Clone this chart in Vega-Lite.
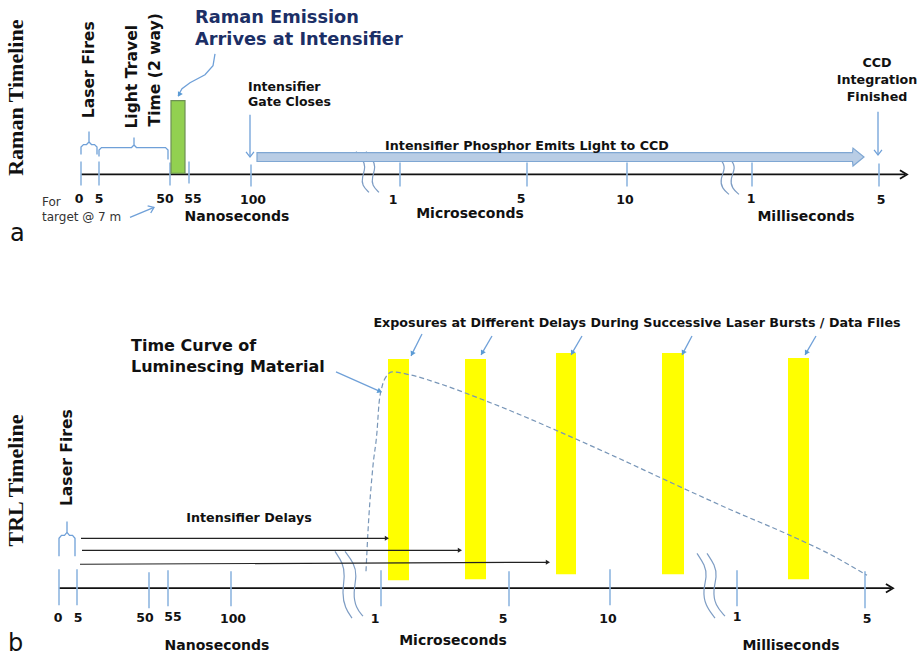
{
  "$schema": "https://vega.github.io/schema/vega-lite/v6.json",
  "width": 923,
  "height": 656,
  "autosize": {"type": "fit", "contains": "padding"},
  "padding": 0,
  "background": "white",
  "config": {"view": {"stroke": null}},
  "encoding": {
    "x": {"field": "x", "type": "quantitative", "scale": {"domain": [0, 923], "nice": false, "zero": false}, "axis": null},
    "y": {"field": "y", "type": "quantitative", "scale": {"domain": [0, 656], "nice": false, "zero": false, "reverse": true}, "axis": null}
  },
  "layer": [
    {
      "data": {"values": [
        {"x": 388, "x2": 409, "y": 360, "y2": 582},
        {"x": 465, "x2": 486, "y": 360, "y2": 581},
        {"x": 556, "x2": 576, "y": 354, "y2": 576},
        {"x": 662, "x2": 684, "y": 354, "y2": 576},
        {"x": 788, "x2": 809, "y": 359, "y2": 581}
      ]},
      "mark": {"type": "rect", "color": "#FFFF00"},
      "encoding": {"x2": {"field": "x2"}, "y2": {"field": "y2"}}
    },
    {
      "data": {"values": [
        {"x": 81, "x2": 905, "y": 175},
        {"x": 59, "x2": 891, "y": 590}
      ]},
      "mark": {"type": "rule", "color": "#111111", "strokeWidth": 1.8},
      "encoding": {"x2": {"field": "x2"}}
    },
    {
      "data": {"values": [
        {"x": 81, "y": 162, "y2": 186}, {"x": 99, "y": 162, "y2": 186}, {"x": 170, "y": 163, "y2": 186},
        {"x": 189, "y": 162, "y2": 184}, {"x": 251, "y": 165, "y2": 187}, {"x": 400, "y": 163, "y2": 187},
        {"x": 527, "y": 163, "y2": 187}, {"x": 627, "y": 163, "y2": 187}, {"x": 752, "y": 163, "y2": 187},
        {"x": 879, "y": 164, "y2": 187},
        {"x": 59, "y": 571, "y2": 607}, {"x": 77, "y": 571, "y2": 607}, {"x": 149, "y": 574, "y2": 610},
        {"x": 168, "y": 572, "y2": 608}, {"x": 231, "y": 573, "y2": 608}, {"x": 381, "y": 572, "y2": 608},
        {"x": 509, "y": 573, "y2": 608}, {"x": 610, "y": 571, "y2": 607}, {"x": 737, "y": 572, "y2": 608},
        {"x": 865, "y": 573, "y2": 610}
      ]},
      "mark": {"type": "rule", "color": "#8FB6E0", "strokeWidth": 1.6},
      "encoding": {"y2": {"field": "y2"}}
    },
    {
      "data": {"values": [
        {"id": "a1L1", "seq": 1, "x": 356, "y": 152}, {"id": "a1L1", "seq": 2, "x": 362, "y": 159}, {"id": "a1L1", "seq": 3, "x": 366, "y": 167}, {"id": "a1L1", "seq": 4, "x": 362, "y": 178}, {"id": "a1L1", "seq": 5, "x": 362, "y": 186}, {"id": "a1L1", "seq": 6, "x": 369, "y": 193},
        {"id": "a1L2", "seq": 1, "x": 366, "y": 152}, {"id": "a1L2", "seq": 2, "x": 372, "y": 159}, {"id": "a1L2", "seq": 3, "x": 376, "y": 167}, {"id": "a1L2", "seq": 4, "x": 372, "y": 178}, {"id": "a1L2", "seq": 5, "x": 372, "y": 186}, {"id": "a1L2", "seq": 6, "x": 379, "y": 193},
        {"id": "a2L1", "seq": 1, "x": 713, "y": 153}, {"id": "a2L1", "seq": 2, "x": 721, "y": 160}, {"id": "a2L1", "seq": 3, "x": 726, "y": 168}, {"id": "a2L1", "seq": 4, "x": 720, "y": 180}, {"id": "a2L1", "seq": 5, "x": 722, "y": 189}, {"id": "a2L1", "seq": 6, "x": 729, "y": 195},
        {"id": "a2L2", "seq": 1, "x": 723, "y": 153}, {"id": "a2L2", "seq": 2, "x": 731, "y": 160}, {"id": "a2L2", "seq": 3, "x": 736, "y": 168}, {"id": "a2L2", "seq": 4, "x": 730, "y": 180}, {"id": "a2L2", "seq": 5, "x": 732, "y": 189}, {"id": "a2L2", "seq": 6, "x": 739, "y": 195},
        {"id": "b1L1", "seq": 1, "x": 335, "y": 553}, {"id": "b1L1", "seq": 2, "x": 343, "y": 565}, {"id": "b1L1", "seq": 3, "x": 345, "y": 577}, {"id": "b1L1", "seq": 4, "x": 342, "y": 595}, {"id": "b1L1", "seq": 5, "x": 345, "y": 610}, {"id": "b1L1", "seq": 6, "x": 352, "y": 620},
        {"id": "b1L2", "seq": 1, "x": 345, "y": 553}, {"id": "b1L2", "seq": 2, "x": 354, "y": 565}, {"id": "b1L2", "seq": 3, "x": 357, "y": 577}, {"id": "b1L2", "seq": 4, "x": 353, "y": 595}, {"id": "b1L2", "seq": 5, "x": 356, "y": 610}, {"id": "b1L2", "seq": 6, "x": 363, "y": 618},
        {"id": "b2L1", "seq": 1, "x": 697, "y": 555}, {"id": "b2L1", "seq": 2, "x": 705, "y": 567}, {"id": "b2L1", "seq": 3, "x": 707, "y": 578}, {"id": "b2L1", "seq": 4, "x": 703, "y": 592}, {"id": "b2L1", "seq": 5, "x": 705, "y": 607}, {"id": "b2L1", "seq": 6, "x": 715, "y": 620},
        {"id": "b2L2", "seq": 1, "x": 707, "y": 555}, {"id": "b2L2", "seq": 2, "x": 715, "y": 567}, {"id": "b2L2", "seq": 3, "x": 717, "y": 578}, {"id": "b2L2", "seq": 4, "x": 713, "y": 592}, {"id": "b2L2", "seq": 5, "x": 715, "y": 607}, {"id": "b2L2", "seq": 6, "x": 725, "y": 618}
      ]},
      "mark": {"type": "line", "interpolate": "basis", "color": "#7E9DC4", "strokeWidth": 1.2},
      "encoding": {"detail": {"field": "id"}, "order": {"field": "seq", "type": "quantitative"}}
    },
    {
      "data": {"values": [
        {"seq": 1, "x": 257, "y": 153, "y2": 162},
        {"seq": 2, "x": 852.5, "y": 153, "y2": 162},
        {"seq": 3, "x": 853, "y": 148.5, "y2": 166.5},
        {"seq": 4, "x": 864, "y": 157.5, "y2": 157.5}
      ]},
      "mark": {"type": "area", "color": "#B9CDE5", "stroke": "#7FA7D3", "strokeWidth": 1.2, "interpolate": "linear"},
      "encoding": {"y2": {"field": "y2"}}
    },
    {
      "data": {"values": [
        {"x": 171, "x2": 185, "y": 101, "y2": 174}
      ]},
      "mark": {"type": "rect", "color": "#92D050", "stroke": "#6E8F55", "strokeWidth": 1.2},
      "encoding": {"x2": {"field": "x2"}, "y2": {"field": "y2"}}
    },
    {
      "data": {"values": [
        {"id": "A1l", "seq": 1, "x": 81, "y": 155}, {"id": "A1l", "seq": 2, "x": 81, "y": 147.5}, {"id": "A1l", "seq": 3, "x": 83.5, "y": 145}, {"id": "A1l", "seq": 4, "x": 86.5, "y": 145}, {"id": "A1l", "seq": 5, "x": 89, "y": 142.5}, {"id": "A1l", "seq": 6, "x": 89, "y": 132},
        {"id": "A1r", "seq": 1, "x": 89, "y": 142.5}, {"id": "A1r", "seq": 2, "x": 91.5, "y": 145}, {"id": "A1r", "seq": 3, "x": 94.5, "y": 145}, {"id": "A1r", "seq": 4, "x": 97, "y": 147.5}, {"id": "A1r", "seq": 5, "x": 97, "y": 155},
        {"id": "A2l", "seq": 1, "x": 99, "y": 157}, {"id": "A2l", "seq": 2, "x": 99, "y": 150.5}, {"id": "A2l", "seq": 3, "x": 101.5, "y": 148}, {"id": "A2l", "seq": 4, "x": 131.5, "y": 148}, {"id": "A2l", "seq": 5, "x": 134, "y": 145.5}, {"id": "A2l", "seq": 6, "x": 134, "y": 138},
        {"id": "A2r", "seq": 1, "x": 134, "y": 145.5}, {"id": "A2r", "seq": 2, "x": 136.5, "y": 148}, {"id": "A2r", "seq": 3, "x": 165.5, "y": 148}, {"id": "A2r", "seq": 4, "x": 168, "y": 150.5}, {"id": "A2r", "seq": 5, "x": 168, "y": 160},
        {"id": "Bl", "seq": 1, "x": 59, "y": 558}, {"id": "Bl", "seq": 2, "x": 59, "y": 540}, {"id": "Bl", "seq": 3, "x": 61.5, "y": 537}, {"id": "Bl", "seq": 4, "x": 64.5, "y": 537}, {"id": "Bl", "seq": 5, "x": 67, "y": 534}, {"id": "Bl", "seq": 6, "x": 67, "y": 523},
        {"id": "Br", "seq": 1, "x": 67, "y": 534}, {"id": "Br", "seq": 2, "x": 69.5, "y": 537}, {"id": "Br", "seq": 3, "x": 72.5, "y": 537}, {"id": "Br", "seq": 4, "x": 75, "y": 540}, {"id": "Br", "seq": 5, "x": 75, "y": 558},
        {"id": "gate", "seq": 1, "x": 250, "y": 115}, {"id": "gate", "seq": 2, "x": 250, "y": 157},
        {"id": "ccd", "seq": 1, "x": 878, "y": 112}, {"id": "ccd", "seq": 2, "x": 878, "y": 155},
        {"id": "tgt", "seq": 1, "x": 130, "y": 218}, {"id": "tgt", "seq": 2, "x": 154, "y": 208},
        {"id": "raman", "seq": 1, "x": 215, "y": 54}, {"id": "raman", "seq": 2, "x": 213, "y": 66}, {"id": "raman", "seq": 3, "x": 205, "y": 75}, {"id": "raman", "seq": 4, "x": 190, "y": 83}, {"id": "raman", "seq": 5, "x": 182, "y": 89}, {"id": "raman", "seq": 6, "x": 178, "y": 96},
        {"id": "tc", "seq": 1, "x": 336, "y": 373}, {"id": "tc", "seq": 2, "x": 381, "y": 393},
        {"id": "e1", "seq": 1, "x": 422, "y": 335}, {"id": "e1", "seq": 2, "x": 411, "y": 357},
        {"id": "e2", "seq": 1, "x": 492, "y": 337}, {"id": "e2", "seq": 2, "x": 481, "y": 356},
        {"id": "e3", "seq": 1, "x": 582, "y": 337}, {"id": "e3", "seq": 2, "x": 571, "y": 356},
        {"id": "e4", "seq": 1, "x": 692, "y": 337}, {"id": "e4", "seq": 2, "x": 682, "y": 356},
        {"id": "e5", "seq": 1, "x": 816, "y": 337}, {"id": "e5", "seq": 2, "x": 805, "y": 356}
      ]},
      "mark": {"type": "line", "interpolate": "linear", "color": "#6FA0D8", "strokeWidth": 1.3},
      "encoding": {"detail": {"field": "id"}, "order": {"field": "seq", "type": "quantitative"}}
    },
    {
      "data": {"values": [
        {"seq": 1, "x": 366, "y": 573}, {"seq": 2, "x": 368, "y": 533}, {"seq": 3, "x": 373, "y": 467},
        {"seq": 4, "x": 377, "y": 433}, {"seq": 5, "x": 379, "y": 405}, {"seq": 6, "x": 382, "y": 388},
        {"seq": 7, "x": 386, "y": 378}, {"seq": 8, "x": 392, "y": 373}, {"seq": 9, "x": 410, "y": 376},
        {"seq": 10, "x": 440, "y": 385}, {"seq": 11, "x": 483, "y": 401}, {"seq": 12, "x": 520, "y": 416},
        {"seq": 13, "x": 557, "y": 432}, {"seq": 14, "x": 615, "y": 458}, {"seq": 15, "x": 673, "y": 485},
        {"seq": 16, "x": 730, "y": 511}, {"seq": 17, "x": 790, "y": 537}, {"seq": 18, "x": 830, "y": 556},
        {"seq": 19, "x": 867, "y": 577}
      ]},
      "mark": {"type": "line", "interpolate": "monotone", "color": "#7896B8", "strokeWidth": 1.2, "strokeDash": [5, 3]},
      "encoding": {"order": {"field": "seq", "type": "quantitative"}}
    },
    {
      "data": {"values": [
        {"id": "d1", "seq": 1, "x": 81, "y": 540}, {"id": "d1", "seq": 2, "x": 386, "y": 540},
        {"id": "d2", "seq": 1, "x": 82, "y": 552}, {"id": "d2", "seq": 2, "x": 459, "y": 552},
        {"id": "d3", "seq": 1, "x": 80, "y": 566}, {"id": "d3", "seq": 2, "x": 547, "y": 564}
      ]},
      "mark": {"type": "line", "color": "#222222", "strokeWidth": 1.2},
      "encoding": {"detail": {"field": "id"}, "order": {"field": "seq", "type": "quantitative"}}
    },
    {
      "data": {"values": [
        {"x": 389, "y": 540, "deg": 0},
        {"x": 462, "y": 552, "deg": 0},
        {"x": 550, "y": 564, "deg": 0}
      ]},
      "mark": {"type": "point", "shape": "M0,0L-1,-0.6L-1,0.6Z", "filled": true, "opacity": 1, "color": "#222222", "size": 70},
      "encoding": {"angle": {"field": "deg", "type": "quantitative", "scale": null}}
    },
    {
      "data": {"values": [
        {"x": 178, "y": 97, "deg": 120},
        {"x": 382, "y": 393.5, "deg": 24},
        {"x": 411, "y": 357, "deg": 117},
        {"x": 481, "y": 356, "deg": 120},
        {"x": 571, "y": 356, "deg": 120},
        {"x": 682, "y": 356, "deg": 118},
        {"x": 805, "y": 356, "deg": 120}
      ]},
      "mark": {"type": "point", "shape": "M0,0L-1,-0.6L-1,0.6Z", "filled": true, "opacity": 1, "color": "#5B9BD5", "size": 90},
      "encoding": {"angle": {"field": "deg", "type": "quantitative", "scale": null}}
    },
    {
      "data": {"values": [
        {"x": 250, "y": 157.5, "deg": 90},
        {"x": 878, "y": 155.5, "deg": 90},
        {"x": 154, "y": 208, "deg": -23}
      ]},
      "mark": {"type": "point", "shape": "M-1,-0.75L0,0L-1,0.75", "filled": false, "opacity": 1, "color": "#6FA0D8", "strokeWidth": 1.3, "size": 110},
      "encoding": {"angle": {"field": "deg", "type": "quantitative", "scale": null}}
    },
    {
      "data": {"values": [
        {"x": 907, "y": 175, "deg": 0},
        {"x": 893, "y": 590, "deg": 0}
      ]},
      "mark": {"type": "point", "shape": "M-1,-0.6L0,0L-1,0.6", "filled": false, "opacity": 1, "color": "#111111", "strokeWidth": 1.8, "size": 200},
      "encoding": {"angle": {"field": "deg", "type": "quantitative", "scale": null}}
    },
    {
      "data": {"values": [
        {"x": 79, "y": 204, "t": "0"}, {"x": 99, "y": 204, "t": "5"}, {"x": 165, "y": 204, "t": "50"},
        {"x": 193, "y": 204, "t": "55"}, {"x": 253, "y": 205, "t": "100"}, {"x": 393, "y": 205, "t": "1"},
        {"x": 521, "y": 204, "t": "5"}, {"x": 625, "y": 205, "t": "10"}, {"x": 751, "y": 204, "t": "1"},
        {"x": 881, "y": 205, "t": "5"},
        {"x": 58, "y": 624, "t": "0"}, {"x": 78, "y": 624, "t": "5"}, {"x": 145, "y": 624, "t": "50"},
        {"x": 173, "y": 623, "t": "55"}, {"x": 233, "y": 625, "t": "100"}, {"x": 375, "y": 625, "t": "1"},
        {"x": 503, "y": 625, "t": "5"}, {"x": 608, "y": 625, "t": "10"}, {"x": 737, "y": 623, "t": "1"},
        {"x": 867, "y": 625, "t": "5"}
      ]},
      "mark": {"type": "text", "font": "DejaVu Sans", "fontWeight": "bold", "fontSize": 12.5, "align": "center", "baseline": "alphabetic", "color": "#111111"},
      "encoding": {"text": {"field": "t"}}
    },
    {
      "data": {"values": [
        {"x": 237, "y": 222, "t": "Nanoseconds"}, {"x": 470, "y": 219, "t": "Microseconds"}, {"x": 806, "y": 222, "t": "Milliseconds"},
        {"x": 217, "y": 652, "t": "Nanoseconds"}, {"x": 453, "y": 647, "t": "Microseconds"}, {"x": 791, "y": 652, "t": "Milliseconds"}
      ]},
      "mark": {"type": "text", "font": "DejaVu Sans", "fontWeight": "bold", "fontSize": 14, "align": "center", "baseline": "alphabetic", "color": "#111111"},
      "encoding": {"text": {"field": "t"}}
    },
    {
      "data": {"values": [
        {"x": 527, "y": 150, "t": "Intensifier Phosphor Emits Light to CCD"},
        {"x": 637, "y": 328, "t": "Exposures at Different Delays During Successive Laser Bursts / Data Files"},
        {"x": 249, "y": 524, "t": "Intensifier Delays"},
        {"x": 877, "y": 67, "t": "CCD\nIntegration\nFinished"}
      ]},
      "mark": {"type": "text", "font": "DejaVu Sans", "fontWeight": "bold", "fontSize": 12.7, "align": "center", "baseline": "alphabetic", "lineBreak": "\n", "lineHeight": 17, "color": "#111111"},
      "encoding": {"text": {"field": "t"}}
    },
    {
      "data": {"values": [
        {"x": 248, "y": 91, "t": "Intensifier\nGate Closes"}
      ]},
      "mark": {"type": "text", "font": "DejaVu Sans", "fontWeight": "bold", "fontSize": 12.5, "align": "left", "baseline": "alphabetic", "lineBreak": "\n", "lineHeight": 15, "color": "#111111"},
      "encoding": {"text": {"field": "t"}}
    },
    {
      "data": {"values": [
        {"x": 195, "y": 23, "t": "Raman Emission\nArrives at Intensifier"}
      ]},
      "mark": {"type": "text", "font": "DejaVu Sans", "fontWeight": "bold", "fontSize": 17.8, "align": "left", "baseline": "alphabetic", "lineBreak": "\n", "lineHeight": 22, "color": "#1C2F66"},
      "encoding": {"text": {"field": "t"}}
    },
    {
      "data": {"values": [
        {"x": 131, "y": 352, "t": "Time Curve of\nLuminescing Material"}
      ]},
      "mark": {"type": "text", "font": "DejaVu Sans", "fontWeight": "bold", "fontSize": 16, "align": "left", "baseline": "alphabetic", "lineBreak": "\n", "lineHeight": 21, "color": "#111111"},
      "encoding": {"text": {"field": "t"}}
    },
    {
      "data": {"values": [
        {"x": 42, "y": 207, "t": "For\ntarget @ 7 m"}
      ]},
      "mark": {"type": "text", "font": "DejaVu Sans", "fontSize": 12, "align": "left", "baseline": "alphabetic", "lineBreak": "\n", "lineHeight": 15, "color": "#333333"},
      "encoding": {"text": {"field": "t"}}
    },
    {
      "data": {"values": [
        {"x": 89, "y": 70, "t": "Laser Fires"},
        {"x": 132, "y": 77, "t": "Light Travel"},
        {"x": 155, "y": 70, "t": "Time (2 way)"},
        {"x": 67, "y": 459, "t": "Laser Fires"}
      ]},
      "mark": {"type": "text", "font": "DejaVu Sans", "fontWeight": "bold", "fontSize": 15.6, "align": "center", "baseline": "middle", "angle": 270, "color": "#111111"},
      "encoding": {"text": {"field": "t"}}
    },
    {
      "data": {"values": [
        {"x": 16, "y": 98, "t": "Raman Timeline"},
        {"x": 16, "y": 482, "t": "TRL Timeline"}
      ]},
      "mark": {"type": "text", "font": "Liberation Serif", "fontWeight": "bold", "fontSize": 22, "align": "center", "baseline": "middle", "angle": 270, "color": "#111111"},
      "encoding": {"text": {"field": "t"}}
    },
    {
      "data": {"values": [
        {"x": 10, "y": 242, "t": "a"},
        {"x": 8, "y": 653, "t": "b"}
      ]},
      "mark": {"type": "text", "font": "DejaVu Sans", "fontSize": 24, "align": "left", "baseline": "alphabetic", "color": "#111111"},
      "encoding": {"text": {"field": "t"}}
    }
  ]
}
